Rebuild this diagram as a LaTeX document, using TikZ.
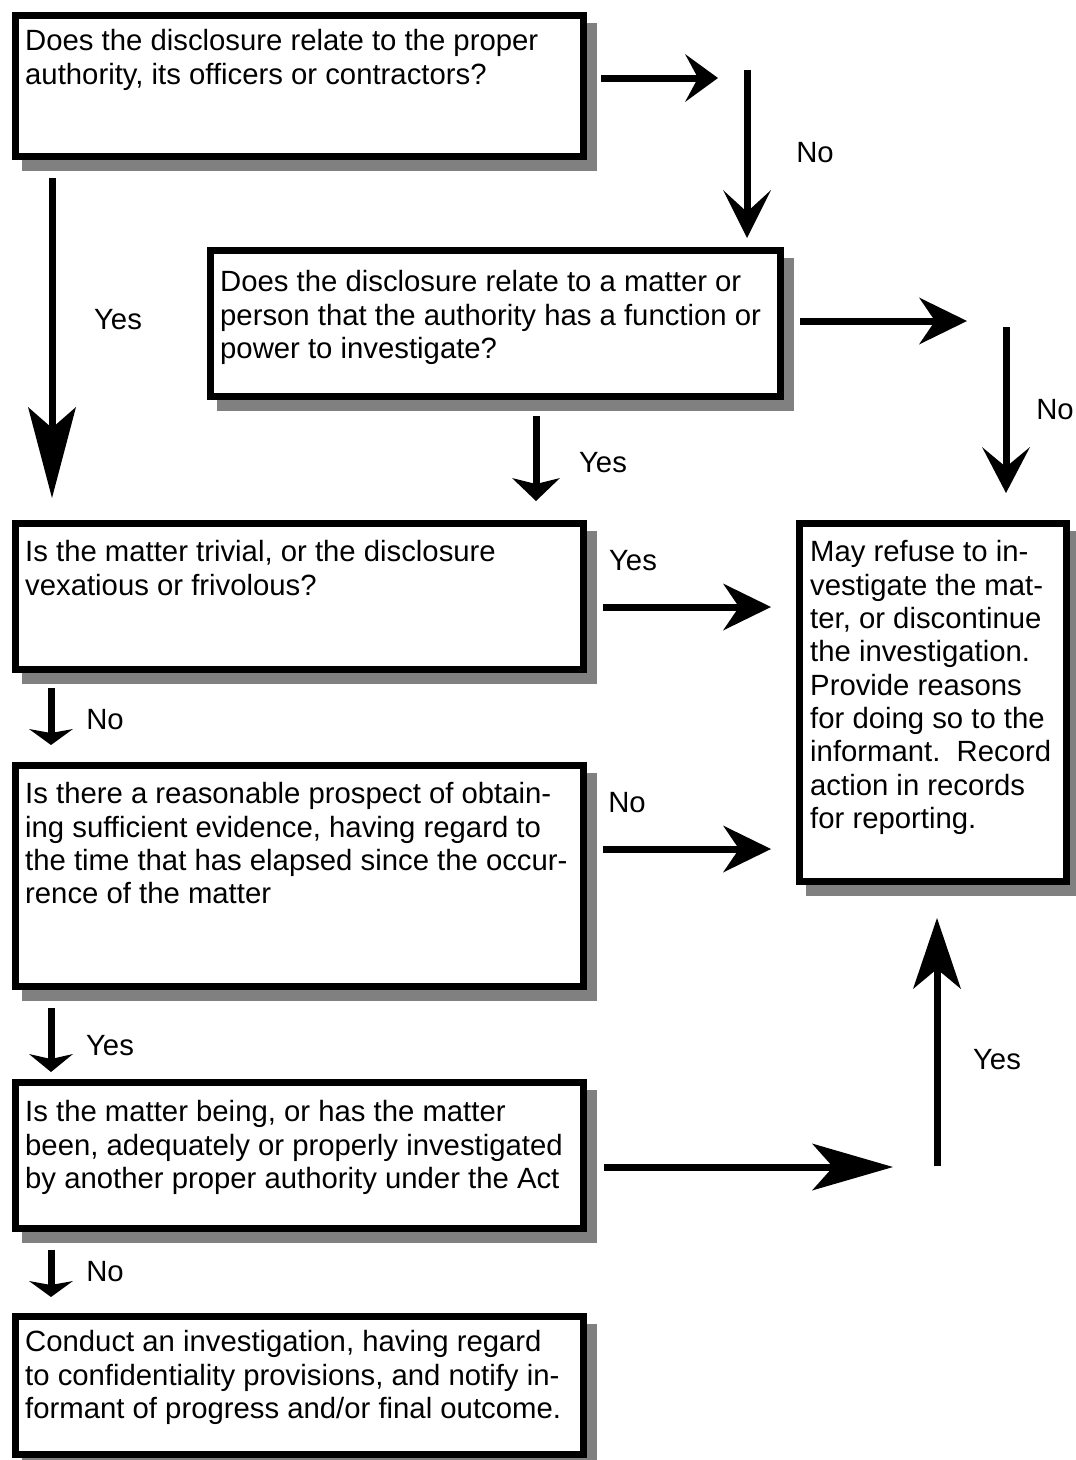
\documentclass[tikz,border=0pt]{standalone}
\usepackage{fontspec}
\setmainfont{Liberation Sans}
\usetikzlibrary{arrows.meta}
\definecolor{shadowgray}{RGB}{128,128,128}
\begin{document}
\begin{tikzpicture}[x=1pt,y=-1pt,
  box/.style={rectangle, draw=black, line width=7pt, fill=white, inner sep=0pt,
    preaction={draw=shadowgray, fill=shadowgray, line width=7pt,
      transform canvas={shift={(10pt,-11pt)}}}},
  txt/.style={anchor=north west, align=left, inner sep=0pt,
    font=\fontsize{29.3}{33.3}\selectfont},
  lbl/.style={inner sep=0pt, font=\fontsize{29.3}{33.3}\selectfont},
  conn/.style n args={3}{line width=7pt,
    -{Stealth[length=#1pt, width=#2pt, inset=#3pt, line width=0pt]}}
]
\useasboundingbox (0,0) rectangle (1076,1460);

% boxes
\node[box, minimum width=568pt, minimum height=141pt] (b1) at (299.5,86) {};
\node[box, minimum width=570pt, minimum height=146pt] (b2) at (495.5,323.5) {};
\node[box, minimum width=568pt, minimum height=146pt] (b3) at (299.5,596.5) {};
\node[box, minimum width=568pt, minimum height=221pt] (b4) at (299.5,876) {};
\node[box, minimum width=568pt, minimum height=146pt] (b5) at (299.5,1155.5) {};
\node[box, minimum width=568pt, minimum height=138pt] (b6) at (299.5,1385.5) {};
\node[box, minimum width=267pt, minimum height=358pt] (b7) at (933,702.5) {};

% texts
\node[txt] (t1) at (25,29.5) {Does the disclosure relate to the proper\\authority, its officers or contractors?};
\node[txt] (t2) at (220,270.5) {Does the disclosure relate to a matter or\\person that the authority has a function or\\power to investigate?};
\node[txt] (t3) at (25,540.5) {Is the matter trivial, or the disclosure\\vexatious or frivolous?};
\node[txt] (t4) at (25,782.5) {Is there a reasonable prospect of obtain-\\ing sufficient evidence, having regard to\\the time that has elapsed since the occur-\\rence of the matter};
\node[txt] (t5) at (25,1100.5) {Is the matter being, or has the matter\\been, adequately or properly investigated\\by another proper authority under the Act};
\node[txt] (t6) at (25,1330.5) {Conduct an investigation, having regard\\to confidentiality provisions, and notify in-\\formant of progress and/or final outcome.};
\node[txt] (t7) at (810,540.5) {May refuse to in-\\vestigate the mat-\\ter, or discontinue\\the investigation.\\Provide reasons\\for doing so to the\\informant.\ \ Record\\action in records\\for reporting.};

% connector end points
\coordinate (a1s) at (601,78);   \coordinate (a1e) at (718,78);
\coordinate (a2s) at (747,70);   \coordinate (a2e) at (747,238);
\coordinate (a3s) at (52,178);   \coordinate (a3e) at (52,498);
\coordinate (a4s) at (800,321);  \coordinate (a4e) at (967,321);
\coordinate (a5s) at (1006,327); \coordinate (a5e) at (1006,493);
\coordinate (a6s) at (536,416);  \coordinate (a6e) at (536,501);
\coordinate (a7s) at (603,607);  \coordinate (a7e) at (771,607);
\coordinate (a8s) at (51,688);   \coordinate (a8e) at (51,745);
\coordinate (a9s) at (603,849);  \coordinate (a9e) at (771,849);
\coordinate (a10s) at (51,1008); \coordinate (a10e) at (51,1072);
\coordinate (a11s) at (604,1167);\coordinate (a11e) at (893,1167);
\coordinate (a12s) at (937,1166);\coordinate (a12e) at (937,918);
\coordinate (a13s) at (51,1250); \coordinate (a13e) at (51,1297);

\draw[conn={33}{48}{13}] (a1s) -- (a1e);
\draw[conn={48}{48}{22}] (a2s) -- (a2e);
\draw[conn={91}{48}{21}] (a3s) -- (a3e);
\draw[conn={48}{47}{16}] (a4s) -- (a4e);
\draw[conn={46}{48}{20}] (a5s) -- (a5e);
\draw[conn={23}{48}{6}] (a6s) -- (a6e);
\draw[conn={48}{47}{16}] (a7s) -- (a7e);
\draw[conn={16}{44}{4}] (a8s) -- (a8e);
\draw[conn={48}{47}{16}] (a9s) -- (a9e);
\draw[conn={18}{44}{5}] (a10s) -- (a10e);
\draw[conn={81}{47}{21}] (a11s) -- (a11e);
\draw[conn={71}{48}{20}] (a12s) -- (a12e);
\draw[conn={16}{44}{4}] (a13s) -- (a13e);

% labels
\node[lbl] (l1) at (815,153) {No};
\node[lbl] (l2) at (118,320) {Yes};
\node[lbl] (l3) at (1055,410) {No};
\node[lbl] (l4) at (603,463) {Yes};
\node[lbl] (l5) at (633,561) {Yes};
\node[lbl] (l6) at (105,720) {No};
\node[lbl] (l7) at (627,803) {No};
\node[lbl] (l8) at (110,1046) {Yes};
\node[lbl] (l9) at (997,1060) {Yes};
\node[lbl] (l10) at (105,1272) {No};
\end{tikzpicture}
\end{document}
